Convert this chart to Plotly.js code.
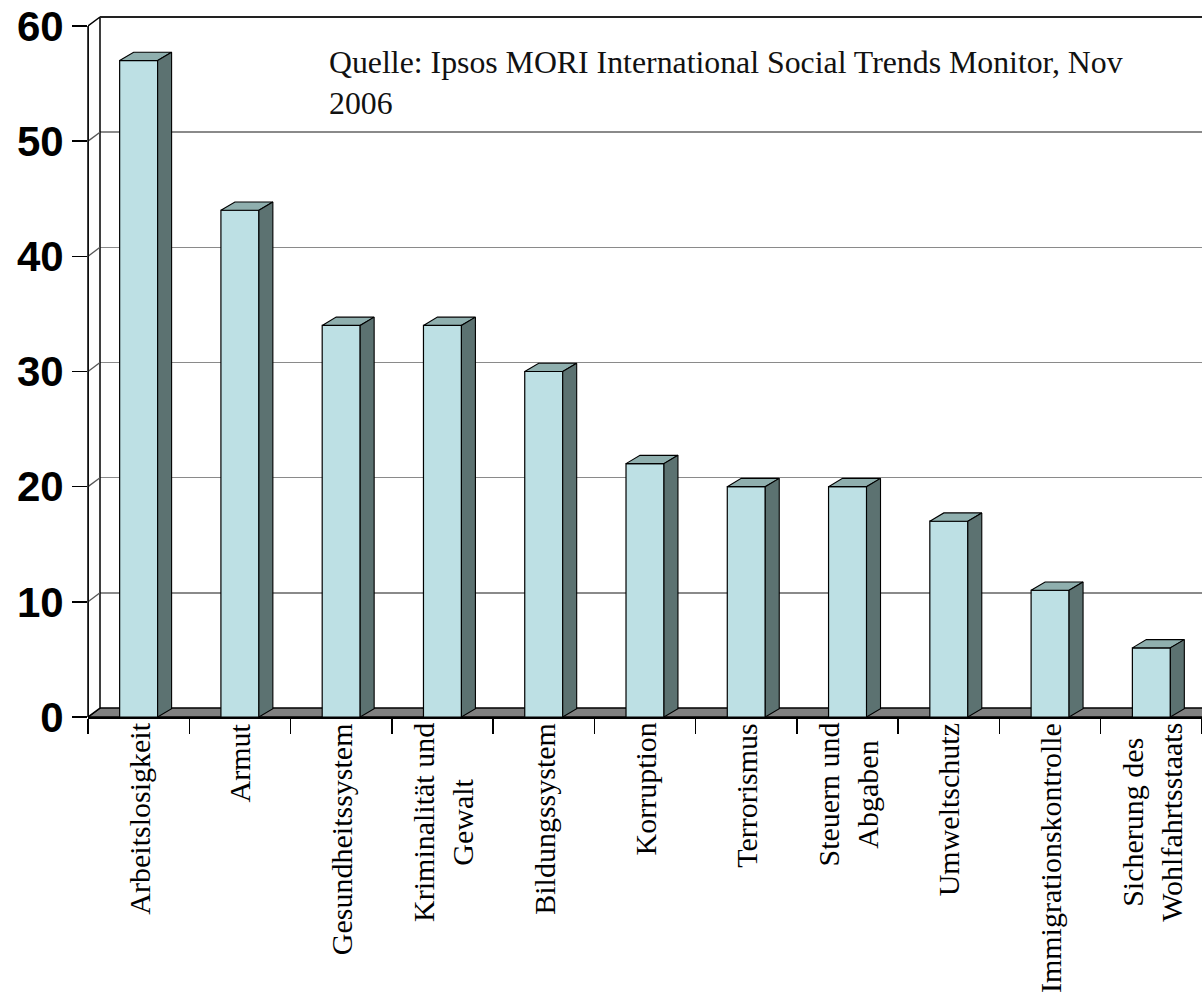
<!DOCTYPE html>
<html>
<head>
<meta charset="utf-8">
<script src="https://cdn.plot.ly/plotly-3.0.1.min.js"></script>
<style>html,body{margin:0;padding:0;background:#fff;}#chart{width:1202px;height:992px;}</style>
</head>
<body>
<div id="chart"></div>
<script>
const categories = ["Arbeitslosigkeit", "Armut", "Gesundheitssystem", "Kriminalität und<br>Gewalt", "Bildungssystem", "Korruption", "Terrorismus", "Steuern und<br>Abgaben", "Umweltschutz", "Immigrationskontrolle", "Sicherung des<br>Wohlfahrtsstaats"];
const values = [57, 44, 34, 34, 30, 22, 20, 20, 17, 11, 6];
const yTicks = [0, 10, 20, 30, 40, 50, 60];
const sourceText = "Quelle: Ipsos MORI International Social Trends Monitor, Nov<br>2006";

// 3D look parameters (in axis units)
const dxw = 0.1185, dyw = 0.78;   // back wall offset
const dxb = 0.138, dyb = 0.72;    // bar depth
const barW = 0.375;
const yMax = yTicks[yTicks.length - 1];
const yTop = yMax + dyw + 0.26;
const idx = categories.map((c, i) => i);
const xLo = -0.5, xHi = categories.length - 0.5;

// top and side faces from values
const topX = [], topY = [], sideX = [], sideY = [];
values.forEach((v, i) => {
  const x0 = i - barW / 2, x1 = i + barW / 2;
  topX.push(x0, x1, x1 + dxb, x0 + dxb, x0, null);
  topY.push(v, v, v + dyb, v + dyb, v, null);
  sideX.push(x1, x1, x1 + dxb, x1 + dxb, x1, null);
  sideY.push(0, v, v + dyb, dyb, 0, null);
});

// left wall diagonals from ticks (on y2 = back coordinates)
const diagX = [], diagY = [];
yTicks.slice(1, -1).forEach(t => {
  diagX.push(xLo, xLo + dxw, null);
  diagY.push(t - dyw, t, null);
});

const traces = [
  { type: 'scatter', mode: 'lines', x: [xLo, xLo, xLo + dxw, xLo + dxw, xLo], y: [0, yMax, yMax + dyw, dyw, 0],
    fill: 'toself', fillcolor: '#ffffff', line: { color: '#000000', width: 1.5 }, hoverinfo: 'skip' },
  { type: 'scatter', mode: 'lines', x: diagX, y: diagY, yaxis: 'y2', line: { color: '#555555', width: 1.3 }, hoverinfo: 'skip' },
  { type: 'scatter', mode: 'lines', x: [xLo + dxw, xHi + 1], y: [yMax + dyw, yMax + dyw], line: { color: '#222222', width: 1.8 }, hoverinfo: 'skip' },
  { type: 'bar', x: idx, y: values, width: barW, marker: { color: '#BDE0E4', line: { color: '#000000', width: 1.2 } } },
  { type: 'scatter', mode: 'lines', x: topX, y: topY, fill: 'toself', fillcolor: '#8FAFAE', line: { color: '#000000', width: 1.1 }, hoverinfo: 'skip' },
  { type: 'scatter', mode: 'lines', x: sideX, y: sideY, fill: 'toself', fillcolor: '#5C7271', line: { color: '#000000', width: 1.1 }, hoverinfo: 'skip' }
];

const boundaries = [];
for (let i = 0; i <= categories.length; i++) boundaries.push(i - 0.5);

const annotations = categories.map((c, i) => ({
  text: c, x: i, xref: 'x', y: 0, yref: 'paper', yshift: -5, borderpad: 0,
  xanchor: 'center', yanchor: 'top', textangle: -90, align: 'center', showarrow: false,
  font: { family: 'Liberation Serif, Times New Roman, serif', size: 30, color: '#000' }
}));
annotations.push({
  text: sourceText, xref: 'paper', x: (328 - 88) / 1114, yref: 'paper', y: (717 - 44) / 703,
  xanchor: 'left', yanchor: 'top', align: 'left', showarrow: false, borderpad: 0,
  font: { family: 'Liberation Serif, Times New Roman, serif', size: 31.8, color: '#111' }
});

const layout = {
  width: 1202, height: 992,
  margin: { l: 88, r: 0, t: 14, b: 275, pad: 0 },
  paper_bgcolor: '#ffffff', plot_bgcolor: '#ffffff',
  showlegend: false, barmode: 'overlay',
  xaxis: {
    range: [xLo, xHi], showgrid: false, zeroline: false,
    showline: true, linecolor: '#000', linewidth: 1.5,
    tickmode: 'array', tickvals: boundaries, ticktext: boundaries.map(() => ''),
    ticks: 'outside', ticklen: 15, tickwidth: 1.5, tickcolor: '#000', showticklabels: false, fixedrange: true
  },
  yaxis: {
    range: [0, yTop], showgrid: false, zeroline: false, showline: false,
    tickmode: 'array', tickvals: yTicks, ticks: 'outside', ticklen: 15, tickwidth: 1.5, tickcolor: '#000',
    ticklabelstandoff: 0,
    tickfont: { family: 'Liberation Sans, Arial, sans-serif', size: 42, color: '#000', weight: 'bold' }, fixedrange: true
  },
  yaxis2: {
    overlaying: 'y', side: 'left', range: [-dyw, yTop - dyw],
    tickmode: 'array', tickvals: yTicks.slice(1, -1), showgrid: true, gridcolor: '#8a8a8a', gridwidth: 1.5,
    showticklabels: false, ticks: '', zeroline: false, showline: false, fixedrange: true
  },
  shapes: [
    { type: 'path', xref: 'x', yref: 'y', layer: 'below',
      path: `M ${xLo},0 L ${xHi + 1},0 L ${xHi + 1},${dyw} L ${xLo + dxw},${dyw} Z`,
      fillcolor: '#808080', line: { color: '#000', width: 1.3 } },
    { type: 'line', xref: 'paper', yref: 'y', x0: 0, x1: 0, y0: 0, y1: yMax, layer: 'above',
      line: { color: '#000', width: 1.5 } }
  ],
  annotations: annotations
};

Plotly.newPlot('chart', traces, layout, { staticPlot: true, displayModeBar: false });
</script>
</body>
</html>
